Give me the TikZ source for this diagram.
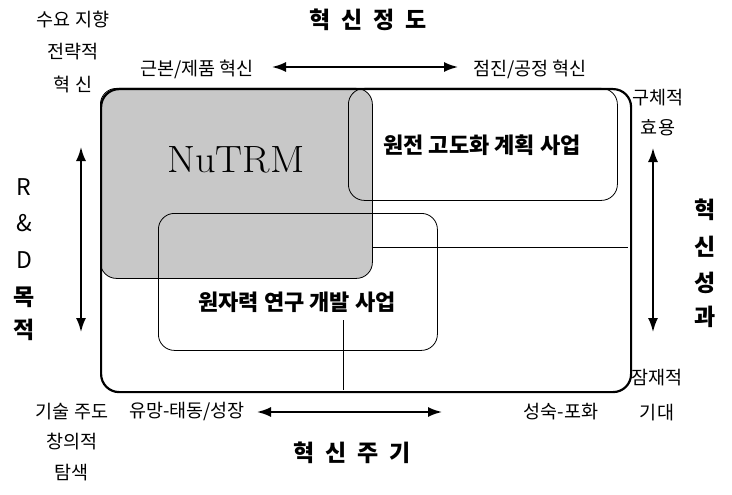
\documentclass[tikz,border=0pt]{standalone}
\usepackage{fontspec}
\usetikzlibrary{arrows.meta}
\newfontfamily\kr{Noto Sans CJK KR}
\definecolor{stipple}{RGB}{200,200,200}
\tikzset{
  lbl/.style={font=\kr\fontsize{18.5}{18.5}\selectfont, inner sep=0pt},
  blbl/.style={font=\kr\bfseries\fontsize{22}{22}\selectfont, inner sep=0pt},
  big/.style={font=\kr\bfseries\fontsize{23}{23}\selectfont, inner sep=0pt},
  bigreg/.style={font=\kr\fontsize{23}{23}\selectfont, inner sep=0pt},
  rbox/.style={draw, line width=0.8pt, rounded corners=16pt, inner sep=0pt, anchor=north west},
  dbl/.style={line width=1.8pt, {Latex[length=14pt,width=10pt]}-{Latex[length=14pt,width=10pt]}},
  thinline/.style={line width=0.6pt}
}
\begin{document}
\begin{tikzpicture}[x=1pt,y=-1pt]
\useasboundingbox (0,0) rectangle (732,495);
% boxes
\node[rbox, fill=stipple, minimum width=272pt, minimum height=190pt] (gray) at (100,88) {};
\node[rbox, minimum width=269pt, minimum height=112pt] (plan) at (348,88) {};
\node[rbox, minimum width=279pt, minimum height=137pt] (rnd) at (158,213) {};
\node[draw, line width=2.2pt, rounded corners=18pt, inner sep=0pt, anchor=north west,
      minimum width=530pt, minimum height=303pt] (outer) at (100,88) {};
% thin dividing lines
\coordinate (h1) at (372,247);
\coordinate (h2) at (628,247);
\coordinate (v1) at (343,320);
\coordinate (v2) at (343,390);
\draw[thinline] (h1) -- (h2);
\draw[thinline] (v1) -- (v2);
% inner labels
\node[inner sep=0pt] (nutrm) at (236,160) {\scalebox{1.06}[1]{\fontsize{38}{38}\selectfont NuTRM}};
\node[blbl] (planlbl) at (482,145) {원전 고도화 계획 사업};
\node[blbl] (rndlbl) at (297,302) {원자력 연구 개발 사업};
% top
\node[big] (t1) at (368,20) {혁\hspace{11pt}신\hspace{11pt}정\hspace{11pt}도};
\node[lbl] (tl1) at (73,20) {수요 지향};
\node[lbl] (tl2) at (73,52) {전략적};
\node[lbl] (tl3) at (73,84) {혁 신};
\node[lbl] (ta) at (197,69) {근본/제품 혁신};
\node[lbl] (tb) at (530,69) {점진/공정 혁신};
\coordinate (a1) at (272,67);
\coordinate (a2) at (458,67);
\draw[dbl] (a1) -- (a2);
% right
\node[lbl] (r1) at (658,98) {구체적};
\node[lbl] (r2) at (658,128) {효용};
\coordinate (b1) at (653,148);
\coordinate (b2) at (653,332);
\draw[dbl] (b1) -- (b2);
\node[big] (rr1) at (705,210) {혁};
\node[big] (rr2) at (705,247) {신};
\node[big] (rr3) at (705,283) {성};
\node[big] (rr4) at (705,317) {과};
\node[lbl] (r3) at (657,378) {잠재적};
\node[lbl] (r4) at (657,413) {기대};
% left
\node[bigreg] (l1) at (24,187) {R};
\node[bigreg] (l2) at (24,223) {\&};
\node[bigreg] (l3) at (24,260) {D};
\node[big] (l4) at (24,297) {목};
\node[big] (l5) at (24,330) {적};
\coordinate (c1) at (81,147);
\coordinate (c2) at (81,332);
\draw[dbl] (c1) -- (c2);
% bottom
\node[lbl] (bl1) at (72,412) {기술 주도};
\node[lbl] (bl2) at (72,442) {창의적};
\node[lbl] (bl3) at (72,473) {탐색};
\node[lbl] (ba) at (187,412) {유망-태동/성장};
\node[lbl] (bb) at (561,412) {성숙-포화};
\coordinate (d1) at (257,412);
\coordinate (d2) at (442,412);
\draw[dbl] (d1) -- (d2);
\node[big] (t2) at (352,453) {혁\hspace{11pt}신\hspace{11pt}주\hspace{11pt}기};
\end{tikzpicture}
\end{document}
